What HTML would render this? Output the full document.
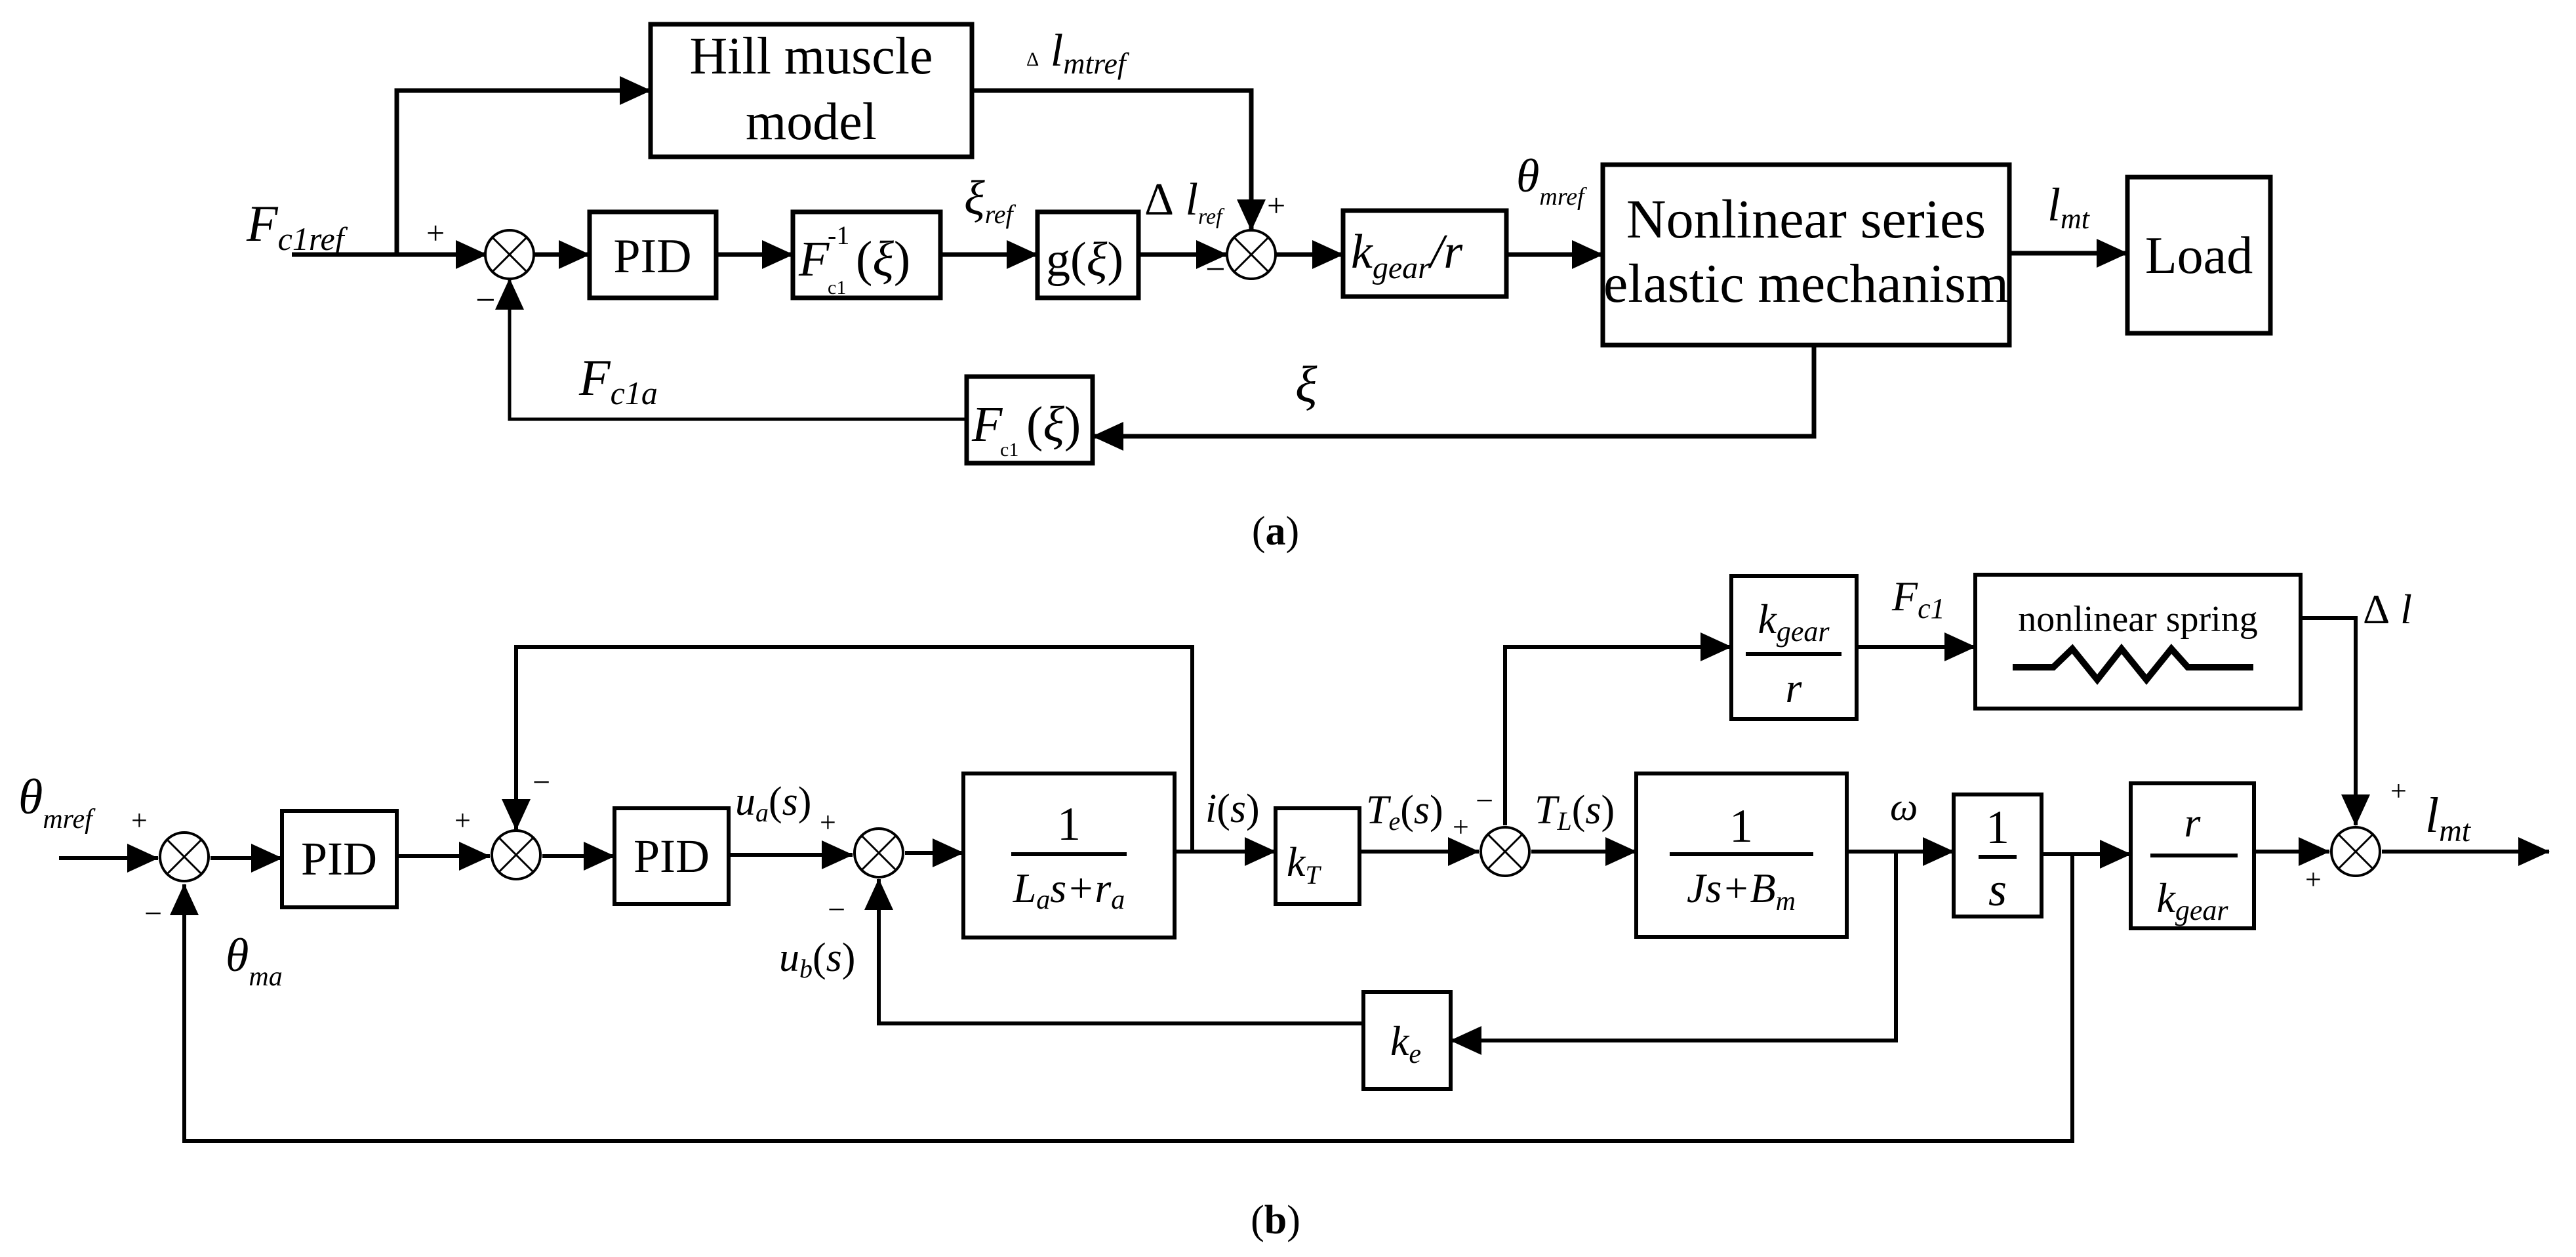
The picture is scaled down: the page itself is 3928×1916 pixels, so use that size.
<!DOCTYPE html>
<html><head><meta charset="utf-8"><style>
html,body{margin:0;padding:0;background:#fff}
svg{display:block}
svg text{font-family:"Liberation Serif","Times New Roman",Times,serif !important;fill:#000}
.i{font-style:italic}
</style></head><body>
<svg width="3928" height="1916" viewBox="0 0 3928 1916" xmlns="http://www.w3.org/2000/svg" font-family="Liberation Serif, Times New Roman, serif">
<defs>
<marker id="a" viewBox="0 0 48 44" refX="47" refY="22" markerWidth="48" markerHeight="44" orient="auto" markerUnits="userSpaceOnUse"><path d="M0 0L48 22L0 44z" fill="#000"/></marker>
<g id="sum"><circle r="37" fill="#fff" stroke="#000" stroke-width="4"/><path d="M-26 -26L26 26M26 -26L-26 26" stroke="#000" stroke-width="3"/></g>
</defs>
<g fill="none" stroke="#000" stroke-width="7">
<path d="M445 388H742" marker-end="url(#a)"/>
<path d="M605 388V138H992" marker-end="url(#a)"/>
<path d="M814 388H899" marker-end="url(#a)"/>
<path d="M1092 388H1209" marker-end="url(#a)"/>
<path d="M1434 388H1582" marker-end="url(#a)"/>
<path d="M1736 388H1871" marker-end="url(#a)"/>
<path d="M1482 138H1908V351" marker-end="url(#a)"/>
<path d="M1945 388H2048" marker-end="url(#a)"/>
<path d="M2297 388H2444" marker-end="url(#a)"/>
<path d="M3064 386H3244" marker-end="url(#a)"/>
<path d="M2766 526V665H1666" marker-end="url(#a)"/>
<path d="M1474 639H777V425" stroke-width="5" marker-end="url(#a)"/>
<rect x="992" y="37" width="490" height="202"/>
<rect x="899" y="323" width="193" height="131"/>
<rect x="1209" y="323" width="225" height="131"/>
<rect x="1582" y="323" width="154" height="131"/>
<rect x="2048" y="321" width="249" height="131"/>
<rect x="2444" y="251" width="620" height="275"/>
<rect x="3244" y="270" width="218" height="238"/>
<rect x="1474" y="574" width="192" height="132"/>
</g>
<g fill="none" stroke="#000" stroke-width="6">
<path d="M90 1308H241" marker-end="url(#a)"/>
<path d="M321 1308H430" marker-end="url(#a)"/>
<path d="M605 1305H747" marker-end="url(#a)"/>
<path d="M827 1305H937" marker-end="url(#a)"/>
<path d="M1111 1303H1300" marker-end="url(#a)"/>
<path d="M1380 1300H1469" marker-end="url(#a)"/>
<path d="M1791 1298H1945" marker-end="url(#a)"/>
<path d="M1818 1298V986H787V1265" marker-end="url(#a)"/>
<path d="M2073 1298H2255" marker-end="url(#a)"/>
<path d="M2335 1298H2495" marker-end="url(#a)"/>
<path d="M2295 1258V986H2640" marker-end="url(#a)"/>
<path d="M2831 986H3012" marker-end="url(#a)"/>
<path d="M3508 942H3592V1258" marker-end="url(#a)"/>
<path d="M2816 1298H2979" marker-end="url(#a)"/>
<path d="M2891 1298V1586H2212" marker-end="url(#a)"/>
<path d="M2079 1560H1340V1340" marker-end="url(#a)"/>
<path d="M3113 1302H3249" marker-end="url(#a)"/>
<path d="M3160 1302V1739H281V1348" marker-end="url(#a)"/>
<path d="M3437 1298H3552" marker-end="url(#a)"/>
<path d="M3632 1298H3887" marker-end="url(#a)"/>
<rect x="430" y="1236" width="175" height="147"/>
<rect x="937" y="1232" width="174" height="146"/>
<rect x="1469" y="1179" width="322" height="250"/>
<rect x="1945" y="1232" width="128" height="146"/>
<rect x="2640" y="878" width="191" height="218"/>
<rect x="3012" y="876" width="496" height="204"/>
<rect x="2495" y="1179" width="321" height="249"/>
<rect x="2079" y="1512" width="133" height="148"/>
<rect x="2979" y="1211" width="134" height="186"/>
<rect x="3249" y="1194" width="188" height="221"/>
<path d="M1542 1302H1718M2546 1302H2765M3017 1306H3075M2662 997H2808M3279 1304H3412"/>
<path d="M3069 1017H3131L3160 989L3198 1036L3235 989L3273 1036L3311 989L3336 1017H3436" stroke-width="10"/>
</g>
<use href="#sum" x="777" y="388"/>
<use href="#sum" x="1908" y="388"/>
<use href="#sum" x="281" y="1306"/>
<use href="#sum" x="787" y="1303"/>
<use href="#sum" x="1340" y="1300"/>
<use href="#sum" x="2295" y="1298"/>
<use href="#sum" x="3592" y="1298"/>

<g font-size="80">
<text x="1237" y="112" text-anchor="middle">Hill muscle</text>
<text x="1237" y="212" text-anchor="middle">model</text>
<text x="995" y="415" text-anchor="middle" font-size="74">PID</text>
<text x="2754" y="362" text-anchor="middle" font-size="84">Nonlinear series</text>
<text x="2754" y="460" text-anchor="middle" font-size="84">elastic mechanism</text>
<text x="3353" y="416" text-anchor="middle" font-size="80">Load</text>
</g>
<text x="1218" y="420" class="i" font-size="76">F</text>
<text x="1262" y="372" font-size="40">-1</text>
<text x="1262" y="448" font-size="30">c1</text>
<text x="1305" y="420" font-size="76">(<tspan class="i">ξ</tspan>)</text>
<text x="1595" y="420" font-size="74">g(<tspan class="i">ξ</tspan>)</text>
<text x="2060" y="408" class="i" font-size="74">k<tspan font-size="48" dy="16">gear</tspan><tspan dy="-16">/r</tspan></text>
<text x="1482" y="672" class="i" font-size="76">F</text>
<text x="1525" y="695" font-size="30">c1</text>
<text x="1565" y="672" font-size="76">(<tspan class="i">ξ</tspan>)</text>
<text x="376" y="367" class="i" font-size="78">F<tspan font-size="50" dy="14">c1ref</tspan></text>
<text x="650" y="372" font-size="50">+</text>
<text x="725" y="475" font-size="54">−</text>
<text x="883" y="602" class="i" font-size="78">F<tspan font-size="50" dy="14">c1a</tspan></text>
<text x="1470" y="326" class="i" font-size="74">ξ<tspan font-size="40" dy="14">ref</tspan></text>
<text x="1745" y="327" class="i" font-size="70"><tspan font-style="normal">Δ</tspan> l<tspan font-size="34" dy="14">ref</tspan></text>
<text x="1565" y="100" class="i" font-size="70"><tspan font-style="normal" font-size="30">Δ</tspan> l<tspan font-size="46" dy="12">mtref</tspan></text>
<text x="1932" y="330" font-size="50">+</text>
<text x="1838" y="428" font-size="54">−</text>
<text x="2312" y="292" class="i" font-size="72">θ<tspan font-size="38" dy="20">mref</tspan></text>
<text x="3122" y="336" class="i" font-size="72">l<tspan font-size="44" dy="12">mt</tspan></text>
<text x="1975" y="612" class="i" font-size="78">ξ</text>
<text x="1945" y="830" text-anchor="middle" font-size="62">(<tspan font-weight="bold">a</tspan>)</text>

<text x="517" y="1333" text-anchor="middle" font-size="72">PID</text>
<text x="1024" y="1329" text-anchor="middle" font-size="72">PID</text>
<text x="1630" y="1280" text-anchor="middle" font-size="72">1</text>
<text x="1630" y="1375" text-anchor="middle" class="i" font-size="64">L<tspan font-size="42" dy="10">a</tspan><tspan dy="-10">s+r</tspan><tspan font-size="42" dy="10">a</tspan></text>
<text x="1962" y="1335" class="i" font-size="64">k<tspan font-size="40" dy="12">T</tspan></text>
<text x="2735" y="965" text-anchor="middle" class="i" font-size="64">k<tspan font-size="44" dy="12">gear</tspan></text>
<text x="2735" y="1070" text-anchor="middle" class="i" font-size="64">r</text>
<text x="3260" y="962" text-anchor="middle" font-size="56">nonlinear spring</text>
<text x="2655" y="1283" text-anchor="middle" font-size="72">1</text>
<text x="2655" y="1375" text-anchor="middle" class="i" font-size="64">Js+B<tspan font-size="42" dy="12">m</tspan></text>
<text x="2120" y="1608" class="i" font-size="64">k<tspan font-size="42" dy="12">e</tspan></text>
<text x="3046" y="1285" text-anchor="middle" font-size="72">1</text>
<text x="3046" y="1380" text-anchor="middle" class="i" font-size="72">s</text>
<text x="3343" y="1275" text-anchor="middle" class="i" font-size="64">r</text>
<text x="3343" y="1390" text-anchor="middle" class="i" font-size="64">k<tspan font-size="44" dy="12">gear</tspan></text>
<text x="28" y="1240" class="i" font-size="76">θ<tspan font-size="42" dy="22">mref</tspan></text>
<text x="200" y="1265" font-size="44">+</text>
<text x="220" y="1408" font-size="48">−</text>
<text x="344" y="1480" class="i" font-size="72">θ<tspan font-size="42" dy="22">ma</tspan></text>
<text x="693" y="1265" font-size="44">+</text>
<text x="812" y="1208" font-size="48">−</text>
<text x="1121" y="1242" class="i" font-size="62">u<tspan font-size="40" dy="10">a</tspan><tspan font-style="normal" dy="-10">(</tspan>s<tspan font-style="normal">)</tspan></text>
<text x="1250" y="1268" font-size="44">+</text>
<text x="1262" y="1402" font-size="48">−</text>
<text x="1188" y="1480" class="i" font-size="62">u<tspan font-size="40" dy="10">b</tspan><tspan font-style="normal" dy="-10">(</tspan>s<tspan font-style="normal">)</tspan></text>
<text x="1838" y="1253" class="i" font-size="62">i<tspan font-style="normal">(</tspan>s<tspan font-style="normal">)</tspan></text>
<text x="2083" y="1255" class="i" font-size="62">T<tspan font-size="40" dy="10">e</tspan><tspan font-style="normal" dy="-10">(</tspan>s<tspan font-style="normal">)</tspan></text>
<text x="2215" y="1275" font-size="44">+</text>
<text x="2250" y="1236" font-size="48">−</text>
<text x="2340" y="1255" class="i" font-size="62">T<tspan font-size="40" dy="10">L</tspan><tspan font-style="normal" dy="-10">(</tspan>s<tspan font-style="normal">)</tspan></text>
<text x="2882" y="1250" class="i" font-size="60">ω</text>
<text x="2885" y="930" class="i" font-size="64">F<tspan font-size="44" dy="12">c1</tspan></text>
<text x="3603" y="950" class="i" font-size="64"><tspan font-style="normal">Δ</tspan> l</text>
<text x="3645" y="1220" font-size="44">+</text>
<text x="3515" y="1355" font-size="44">+</text>
<text x="3698" y="1268" class="i" font-size="76">l<tspan font-size="48" dy="14">mt</tspan></text>
<text x="1945" y="1880" text-anchor="middle" font-size="62">(<tspan font-weight="bold">b</tspan>)</text>
</svg>
</body></html>
